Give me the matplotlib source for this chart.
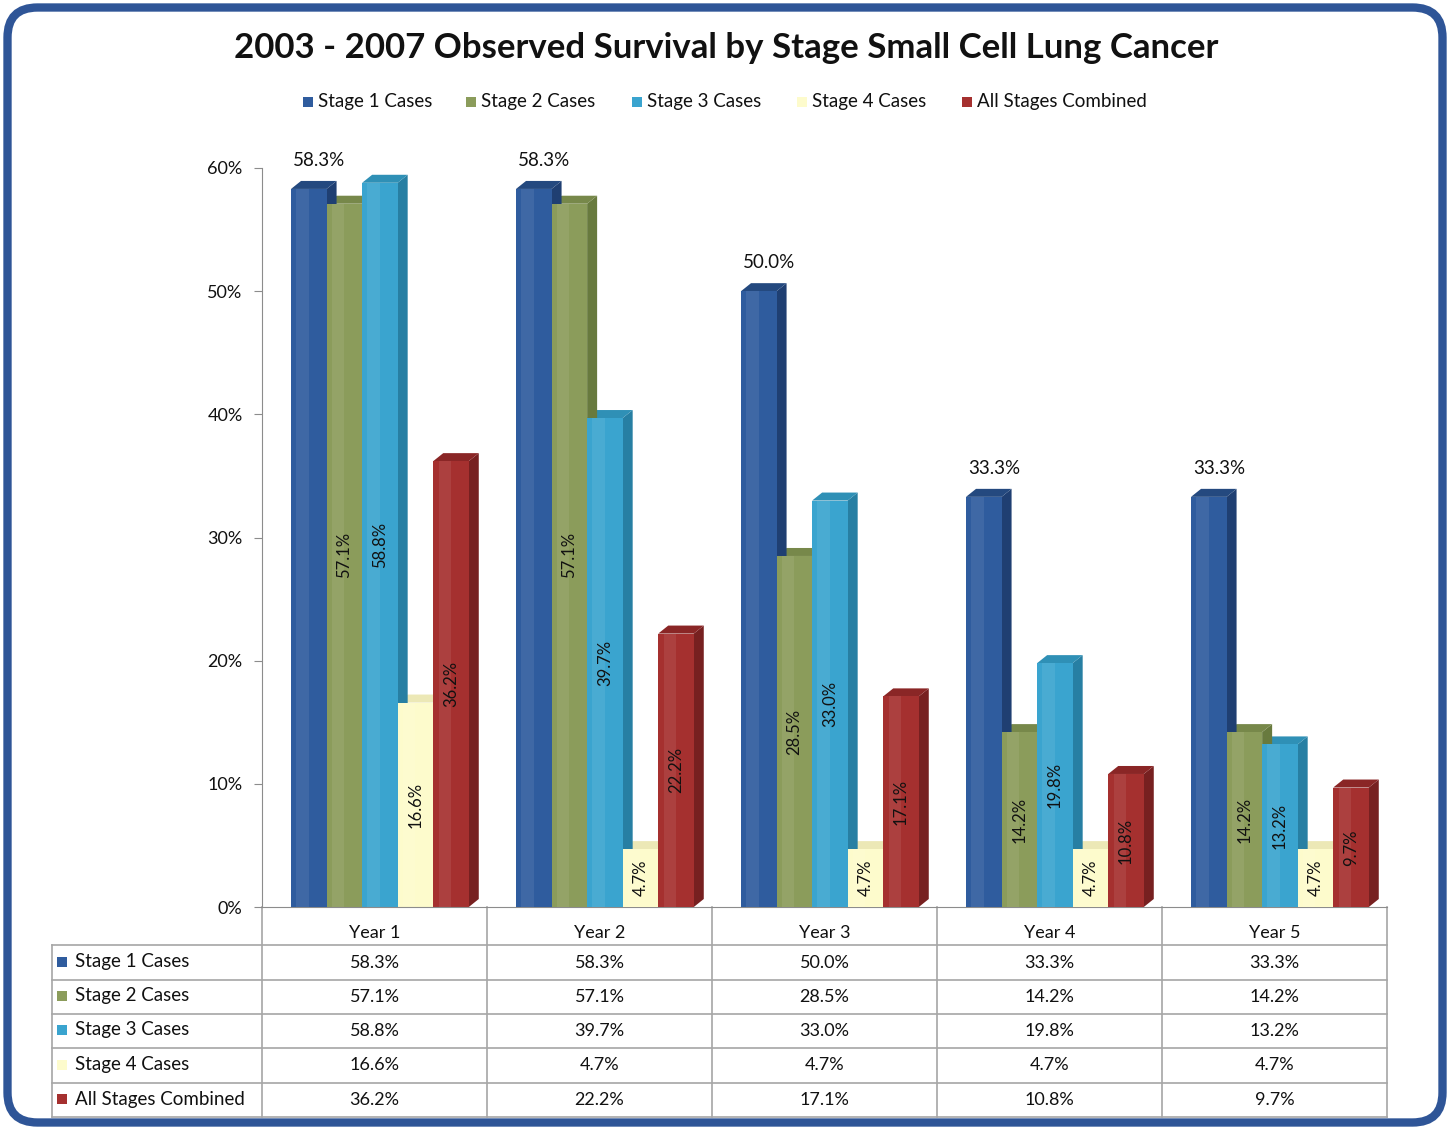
import matplotlib
matplotlib.use("Agg")
import matplotlib.pyplot as plt
from matplotlib.patches import Polygon, Rectangle, FancyBboxPatch

plt.rcParams['font.family'] = ['Lato', 'DejaVu Sans']

# ---------------- data ----------------
title = "2003 - 2007 Observed Survival by Stage Small Cell Lung Cancer"
years = ["Year 1", "Year 2", "Year 3", "Year 4", "Year 5"]
series_names = ["Stage 1 Cases", "Stage 2 Cases", "Stage 3 Cases",
                "Stage 4 Cases", "All Stages Combined"]
stage1 = [58.3, 58.3, 50.0, 33.3, 33.3]
stage2 = [57.1, 57.1, 28.5, 14.2, 14.2]
stage3 = [58.8, 39.7, 33.0, 19.8, 13.2]
stage4 = [16.6, 4.7, 4.7, 4.7, 4.7]
all_stages = [36.2, 22.2, 17.1, 10.8, 9.7]
y_ticks = [0, 10, 20, 30, 40, 50, 60]

series = [stage1, stage2, stage3, stage4, all_stages]
front_colors = ["#2f5c9e", "#8b9c5b", "#3aa4cf", "#fdfbcc", "#a5302f"]
side_colors = ["#1f3f72", "#687a3e", "#277fa3", "#e2dea8", "#772020"]
top_colors = ["#24497f", "#77884a", "#2f90b6", "#ece8b6", "#8a2626"]
legend_colors = ["#2f5c9e", "#8b9c5b", "#3aa4cf", "#fdfbcc", "#a5302f"]

W, H = 1450, 1130
fig = plt.figure(figsize=(W / 100, H / 100), dpi=100)

# overlay axes in pixel coordinates
ov = fig.add_axes([0, 0, 1, 1], zorder=0)
ov.set_xlim(0, W)
ov.set_ylim(H, 0)
ov.axis("off")

# outer rounded border
ov.add_patch(FancyBboxPatch((7.5, 7.5), W - 15, H - 15,
                            boxstyle="round,pad=0,rounding_size=30",
                            fill=False, ec="#2f5597", lw=6))

# title
ov.text(726, 48, title, ha="center", va="center", fontsize=25,
        fontweight="bold", color="#111111")

# legend row
leg_sq_x = [303, 466, 632, 797, 962]
for name, col, sx in zip(series_names, legend_colors, leg_sq_x):
    ov.add_patch(Rectangle((sx, 97), 10, 10, fc=col, ec="none"))
    ov.text(sx + 15, 102, name, ha="left", va="center", fontsize=13.5,
            color="#111111")

# ---------------- chart axes ----------------
x0, x1 = 262, 1387
y0, y1 = 907, 168
ax = fig.add_axes([x0 / W, (H - y0) / H, (x1 - x0) / W, (y0 - y1) / H], zorder=2)
ax.patch.set_alpha(0)
ax.set_xlim(-0.5, 4.5)
ax.set_ylim(0, 60)

bar_w = 0.158
offsets = [-0.292 + i * bar_w for i in range(5)]
dx = 10 / 225.0
dy = 8 / 12.32

for si, vals in enumerate(series):
    for gi, v in enumerate(vals):
        xc = gi + offsets[si]
        xl, xr = xc - bar_w / 2, xc + bar_w / 2
        # side face
        ax.add_patch(Polygon([(xr, 0), (xr + dx, dy), (xr + dx, v + dy), (xr, v)],
                             closed=True, fc=side_colors[si], ec="none", zorder=2 + gi * 10 - si))
        # top face
        ax.add_patch(Polygon([(xl, v), (xr, v), (xr + dx, v + dy), (xl + dx, v + dy)],
                             closed=True, fc=top_colors[si], ec="none", zorder=2 + gi * 10 - si))
        # front face
        ax.add_patch(Rectangle((xl, 0), bar_w, v, fc=front_colors[si], ec="none",
                               zorder=3 + gi * 10 - si))
        # subtle highlight stripe
        ax.add_patch(Rectangle((xl + bar_w * 0.15, 0), bar_w * 0.35, v, fc="white",
                               alpha=0.08, ec="none", zorder=3 + gi * 10 - si))
        lbl = f"{v:.1f}%"
        if si == 0:
            ax.text(xc + 0.045, v + 2.3, lbl, ha="center", va="center", fontsize=13.5,
                    color="#111111", zorder=100, clip_on=False)
        else:
            ax.text(xc, v / 2, lbl, ha="center", va="center", fontsize=12,
                    rotation=90, color="#111111", zorder=100)

for s in ["top", "right"]:
    ax.spines[s].set_visible(False)
ax.spines["left"].set_color("#8c8c8c")
ax.spines["bottom"].set_color("#8c8c8c")
ax.set_xticks([])
ax.set_yticks(y_ticks)
ax.set_yticklabels([f"{t}%" for t in y_ticks], fontsize=13, color="#111111")
ax.tick_params(axis="y", direction="out", length=6, color="#8c8c8c", pad=8)

# ---------------- data table ----------------
grid_c = "#a6a6a6"
col_edges = [262, 487, 712, 937, 1162, 1387]
row_edges = [945, 980, 1014, 1048, 1083, 1117]
lw = 1.2
for xe in col_edges:
    ov.plot([xe, xe], [907, 1117], color=grid_c, lw=lw)
ov.plot([52, 52], [945, 1117], color=grid_c, lw=lw)
for ye in row_edges:
    ov.plot([52, 1387], [ye, ye], color=grid_c, lw=lw)

for ci, yr in enumerate(years):
    cx = (col_edges[ci] + col_edges[ci + 1]) / 2
    ov.text(cx, 933, yr, ha="center", va="center", fontsize=13, color="#111111")

for ri, (name, vals) in enumerate(zip(series_names, series)):
    cy = (row_edges[ri] + row_edges[ri + 1]) / 2
    ov.add_patch(Rectangle((57, cy - 6), 10, 10, fc=legend_colors[ri], ec="none"))
    ov.text(75, cy - 1, name, ha="left", va="center", fontsize=13.5, color="#111111")
    for ci, v in enumerate(vals):
        cx = (col_edges[ci] + col_edges[ci + 1]) / 2
        ov.text(cx, cy, f"{v:.1f}%", ha="center", va="center", fontsize=13,
                color="#111111")

fig.savefig("out.png", dpi=100, facecolor="white")
